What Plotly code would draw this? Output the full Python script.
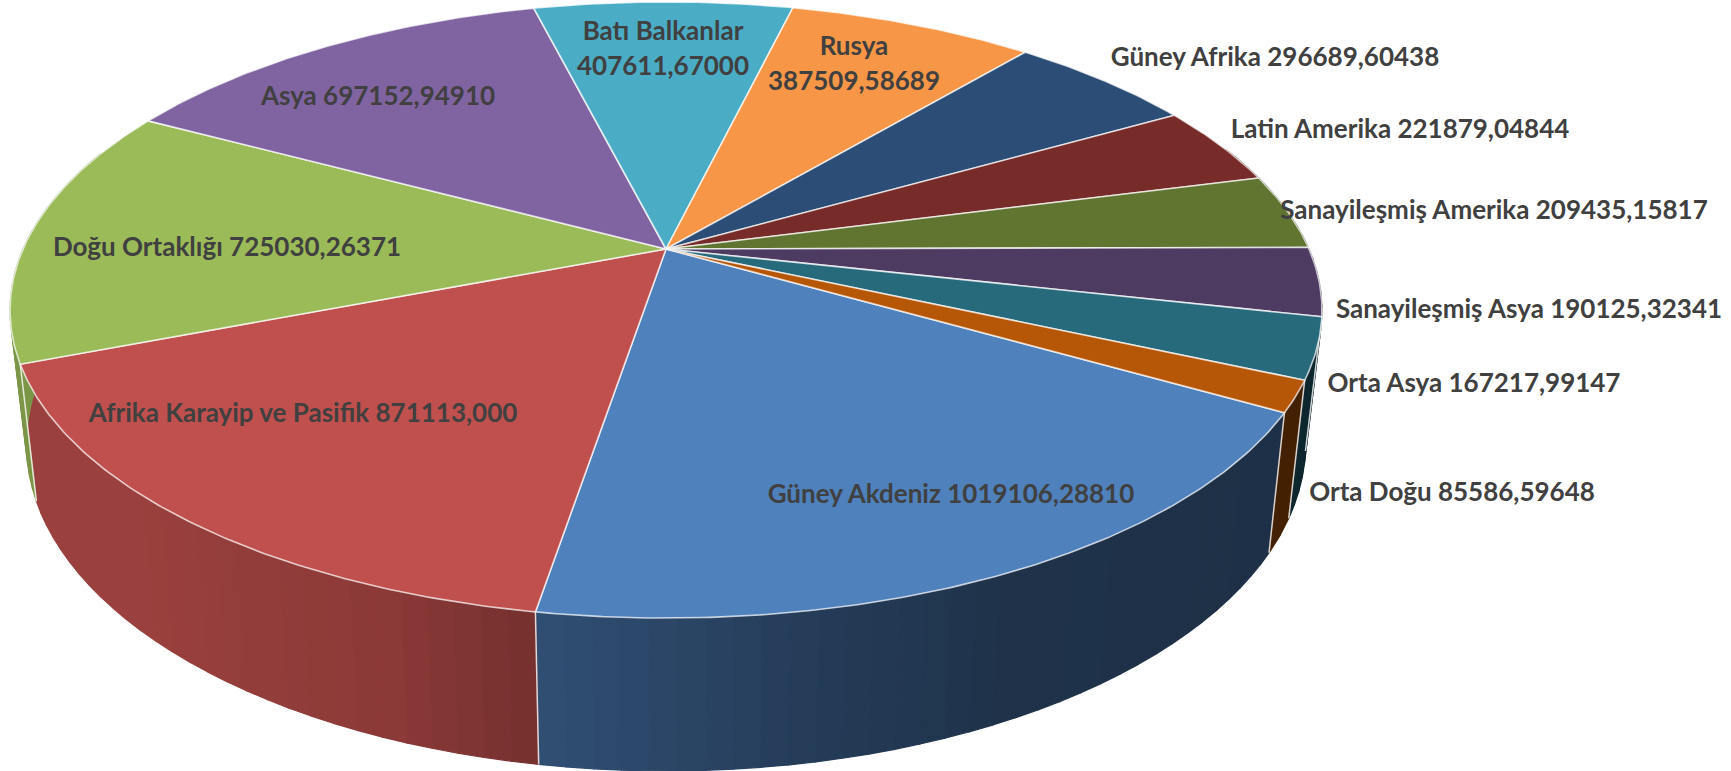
import numpy as np
import plotly.graph_objects as go

# ---- data ----
names = ["Güney Akdeniz", "Afrika Karayip ve Pasifik", "Doğu Ortaklığı", "Asya", "Batı Balkanlar",
         "Rusya", "Güney Afrika", "Latin Amerika", "Sanayileşmiş Amerika", "Sanayileşmiş Asya",
         "Orta Asya", "Orta Doğu"]
values = [1019106.28810, 871113.000, 725030.26371, 697152.94910, 407611.67000,
          387509.58689, 296689.60438, 221879.04844, 209435.15817, 190125.32341,
          167217.99147, 85586.59648]
value_text = ["1019106,28810", "871113,000", "725030,26371", "697152,94910", "407611,67000",
              "387509,58689", "296689,60438", "221879,04844", "209435,15817", "190125,32341",
              "167217,99147", "85586,59648"]
colors = ["#4F81BD", "#C0504D", "#9BBB59", "#8064A2", "#4BACC6", "#F79646",
          "#2C4D75", "#772C2A", "#5F7530", "#4D3B62", "#276A7C", "#B65708"]
two_line = [False, False, False, False, True, True, False, False, False, False, False, False]

# ---- label anchor positions (page pixels); two-line labels use the mid-point ----
label_x = [951, 303, 227, 378, 663, 854, 1275, 1400, 1494, 1529, 1474, 1452]
label_y = [496, 415, 249, 98, 51, 66, 59, 131, 212, 311, 385, 494]
LINE_GAP = 35

# ---- perspective model of the pie ----
CX, CY = 666, 249
A, B, K = 643, 296, 0.198
DEPTH, SHRINK = 130, 0.975
START_DEG = 119.9


def project(theta_deg, r=1.0, lower=False):
    th = np.radians(theta_deg)
    X, Y = r * np.sin(th), -r * np.cos(th)
    w = 1 - K * Y
    if lower:
        return CX + SHRINK * A * X / w, CY + (SHRINK * B * Y + DEPTH) / w
    return CX + A * X / w, CY + B * Y / w


def shade(hex_color, px):
    f = np.interp(px, [20, 150, 400, 540, 800, 1000, 1320], [.80, .80, .72, .61, .47, .39, .37])
    r, g, b = (int(hex_color[i:i + 2], 16) for i in (1, 3, 5))
    return f"rgb({r * f:.0f},{g * f:.0f},{b * f:.0f})"


fractions = np.array(values) / sum(values)
edges = START_DEG + 360 * np.concatenate([[0], np.cumsum(fractions)])

fig = go.Figure()
EDGE = "rgba(255,255,255,0.72)"


def add_poly(xs, ys, fill, line=None, width=1.0):
    fig.add_trace(go.Scatter(x=xs, y=ys, mode="lines", fill="toself", fillcolor=fill,
                             line=dict(color=line or fill, width=width), hoverinfo="skip",
                             showlegend=False))


# side wall, split in narrow strips for the horizontal shading
for i in range(len(values)):
    a0, a1 = edges[i], edges[i + 1]
    n = max(2, int((a1 - a0) / 2))
    t = np.linspace(a0, a1, n + 1)
    for p, q in zip(t[:-1], t[1:]):
        if -np.cos(np.radians((p + q) / 2)) < -0.35:
            continue
        x0, y0 = project(p)
        x1, y1 = project(q)
        x2, y2 = project(q, lower=True)
        x3, y3 = project(p, lower=True)
        add_poly([x0, x1, x2, x3, x0], [y0, y1, y2, y3, y0], shade(colors[i], (x2 + x3) / 2), width=1.2)

# light divider on the wall
for a in edges[:-1]:
    if -np.cos(np.radians(a)) > -0.1:
        x0, y0 = project(a)
        x1, y1 = project(a, lower=True)
        fig.add_trace(go.Scatter(x=[x0, x1], y=[y0, y1], mode="lines", hoverinfo="skip", showlegend=False,
                                 line=dict(color="rgba(255,255,255,0.8)", width=1.5)))

# top face
for i in range(len(values)):
    t = np.linspace(edges[i], edges[i + 1], max(8, int((edges[i + 1] - edges[i]) * 2)))
    x, y = project(t)
    add_poly(np.r_[CX, x, CX], np.r_[CY, y, CY], colors[i], EDGE, 1.6)

# labels
tx, ty, tt = [], [], []
for n, v, two, lx, ly in zip(names, value_text, two_line, label_x, label_y):
    if two:
        tx += [lx, lx]
        ty += [ly - LINE_GAP / 2, ly + LINE_GAP / 2]
        tt += [n, v]
    else:
        tx.append(lx)
        ty.append(ly)
        tt.append(n + " " + v)
fig.add_trace(go.Scatter(x=tx, y=ty, mode="text", text=tt, textposition="middle center",
                         textfont=dict(family="Lato", size=26, color="#404040", weight="bold"),
                         hoverinfo="skip", showlegend=False))

fig.update_layout(width=1731, height=771, margin=dict(l=0, r=0, t=0, b=0),
                  paper_bgcolor="white", plot_bgcolor="white", showlegend=False,
                  xaxis=dict(range=[0, 1731], visible=False, fixedrange=True),
                  yaxis=dict(range=[771, 0], visible=False, fixedrange=True))
fig.write_html("out.html", config=dict(displayModeBar=False),
               post_script="document.body.style.margin='0';document.documentElement.style.overflow='hidden';")
